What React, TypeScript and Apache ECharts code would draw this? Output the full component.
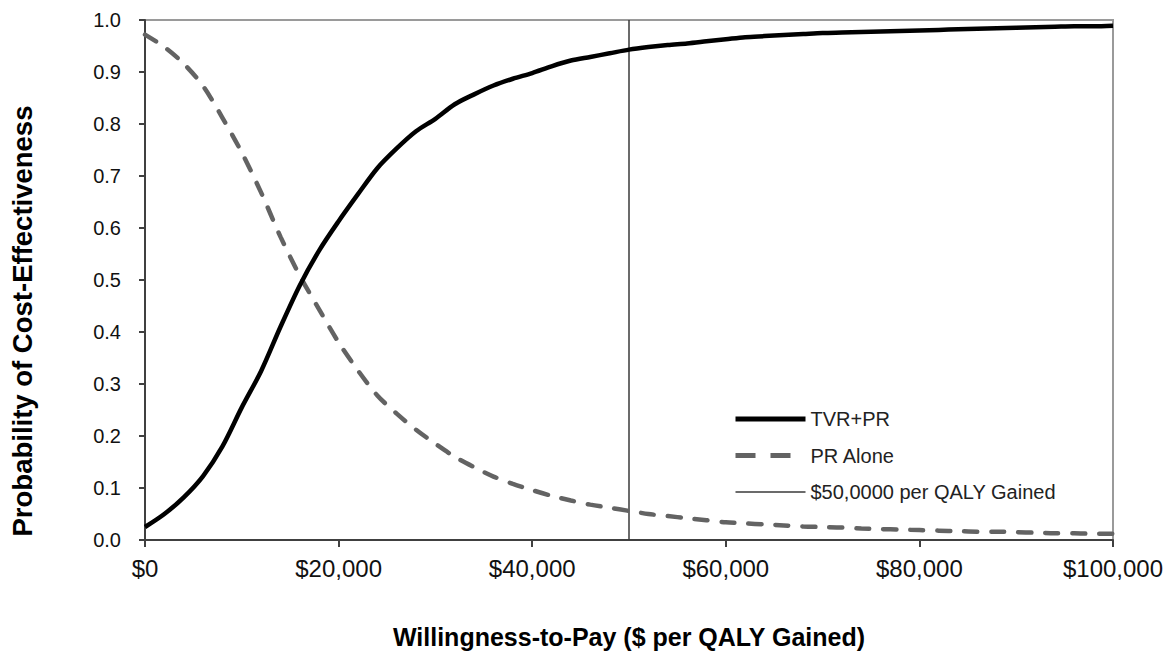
import React, { useEffect, useRef } from 'react';
import * as echarts from 'echarts';

const wtp = [
  0, 2000, 4000, 6000, 8000, 10000, 12000, 14000, 16000, 18000,
  20000, 22000, 24000, 26000, 28000, 30000, 32000, 34000, 36000, 38000,
  40000, 42000, 44000, 46000, 48000, 50000, 52000, 54000, 56000, 58000,
  60000, 62000, 64000, 66000, 68000, 70000, 72000, 74000, 76000, 78000,
  80000, 82000, 84000, 86000, 88000, 90000, 92000, 94000, 96000, 98000,
  100000,
];

const tvrPr = [
  0.025, 0.05, 0.082, 0.123, 0.18, 0.255, 0.325, 0.41, 0.49, 0.557,
  0.613, 0.665, 0.715, 0.753, 0.786, 0.81, 0.838, 0.857, 0.874, 0.887,
  0.898, 0.911, 0.922, 0.929, 0.936, 0.943, 0.948, 0.952, 0.955, 0.959,
  0.963, 0.967, 0.969, 0.971, 0.973, 0.975, 0.976, 0.977, 0.978, 0.979,
  0.98, 0.981, 0.982, 0.983, 0.984, 0.985, 0.986, 0.987, 0.988, 0.988,
  0.989,
];

const prAlone = [
  0.972, 0.948, 0.916, 0.873, 0.812, 0.745, 0.668, 0.583, 0.508, 0.443,
  0.38, 0.326, 0.278, 0.243, 0.212, 0.185, 0.16, 0.14, 0.122, 0.108,
  0.096, 0.085, 0.076, 0.068, 0.062, 0.056, 0.05, 0.046, 0.042, 0.038,
  0.034, 0.032, 0.03, 0.028, 0.026, 0.025, 0.024, 0.022, 0.021, 0.02,
  0.019, 0.018, 0.017, 0.016, 0.016, 0.015, 0.014, 0.013, 0.013, 0.012,
  0.012,
];

const thresholdX = [50000, 50000];
const thresholdY = [0, 1];

const seriesNames = ['TVR+PR', 'PR Alone', '$50,0000 per QALY Gained'];
const xTitle = 'Willingness-to-Pay ($ per QALY Gained)';
const yTitle = 'Probability of Cost-Effectiveness';

const FONT = '"Liberation Sans", Arial, sans-serif';

export default function App() {
  const ref = useRef<HTMLDivElement>(null);
  useEffect(() => {
    if (!ref.current) return;
    const chart = echarts.init(ref.current, null, { renderer: 'svg' });
    const option = {
      animation: false,
      backgroundColor: '#ffffff',
      textStyle: { fontFamily: FONT },
      grid: {
        left: 145,
        right: 61,
        top: 20,
        bottom: 116,
        show: true,
        borderColor: '#9a9a9a',
        borderWidth: 2,
        backgroundColor: 'transparent',
      },
      legend: {
        orient: 'vertical',
        left: 733,
        top: 409,
        padding: 0,
        itemWidth: 70,
        itemHeight: 20,
        itemGap: 16.5,
        textStyle: { fontFamily: FONT, fontSize: 20, color: '#222' },
        data: [
          {
            name: seriesNames[0],
            itemStyle: { opacity: 0 },
            lineStyle: { color: '#000000', width: 5, cap: 'butt' },
          },
          {
            name: seriesNames[1],
            itemStyle: { opacity: 0 },
            lineStyle: { color: '#636363', width: 5, type: [20, 15], cap: 'butt' },
          },
          {
            name: seriesNames[2],
            itemStyle: { opacity: 0 },
            lineStyle: { color: '#3a3a3a', width: 1.5 },
          },
        ],
      },
      xAxis: {
        type: 'value',
        min: 0,
        max: 100000,
        interval: 20000,
        splitLine: { show: false },
        axisLine: { show: true, onZero: false, lineStyle: { color: '#404040', width: 2 } },
        axisTick: { show: true, length: 7, inside: false, lineStyle: { color: '#404040', width: 2 } },
        axisLabel: {
          margin: 16,
          fontFamily: FONT,
          fontSize: 24,
          color: '#111',
          formatter: (v: number) => '$' + v.toLocaleString('en-US'),
        },
      },
      yAxis: {
        type: 'value',
        min: 0,
        max: 1,
        interval: 0.1,
        splitLine: { show: false },
        axisLine: { show: true, lineStyle: { color: '#404040', width: 2 } },
        axisTick: { show: true, length: 6, inside: false, lineStyle: { color: '#404040', width: 2 } },
        axisLabel: {
          margin: 24,
          fontFamily: FONT,
          fontSize: 20,
          color: '#111',
          formatter: (v: number) => v.toFixed(1),
        },
      },
      series: [
        {
          name: seriesNames[0],
          type: 'line',
          data: wtp.map((x, i) => [x, tvrPr[i]]),
          smooth: 0.3,
          symbol: 'none',
          showSymbol: false,
          lineStyle: { color: '#000000', width: 4.5 },
          itemStyle: { color: '#000000' },
          z: 4,
        },
        {
          name: seriesNames[1],
          type: 'line',
          data: wtp.map((x, i) => [x, prAlone[i]]),
          smooth: 0.3,
          symbol: 'none',
          showSymbol: false,
          lineStyle: { color: '#636363', width: 4.5, type: [13, 14], cap: 'round' },
          itemStyle: { color: '#636363' },
          z: 3,
        },
        {
          name: seriesNames[2],
          type: 'line',
          data: thresholdX.map((x, i) => [x, thresholdY[i]]),
          symbol: 'none',
          showSymbol: false,
          lineStyle: { color: '#3a3a3a', width: 1.5 },
          itemStyle: { color: '#3a3a3a' },
          z: 2,
        },
      ],
      graphic: [
        {
          type: 'text',
          x: 629,
          y: 637,
          style: {
            text: xTitle,
            fontFamily: FONT,
            fontSize: 25,
            fontWeight: 'bold',
            fill: '#000',
            align: 'center',
            verticalAlign: 'middle',
          },
        },
        {
          type: 'text',
          x: 22,
          y: 321,
          rotation: Math.PI / 2,
          style: {
            text: yTitle,
            fontFamily: FONT,
            fontSize: 27.5,
            fontWeight: 'bold',
            fill: '#000',
            align: 'center',
            verticalAlign: 'middle',
          },
        },
      ],
    };
    chart.setOption(option as any);
    return () => chart.dispose();
  }, []);
  return (
    <div
      ref={ref}
      style={{ position: 'fixed', left: 0, top: 0, width: 1174, height: 656, background: '#fff' }}
    />
  );
}
